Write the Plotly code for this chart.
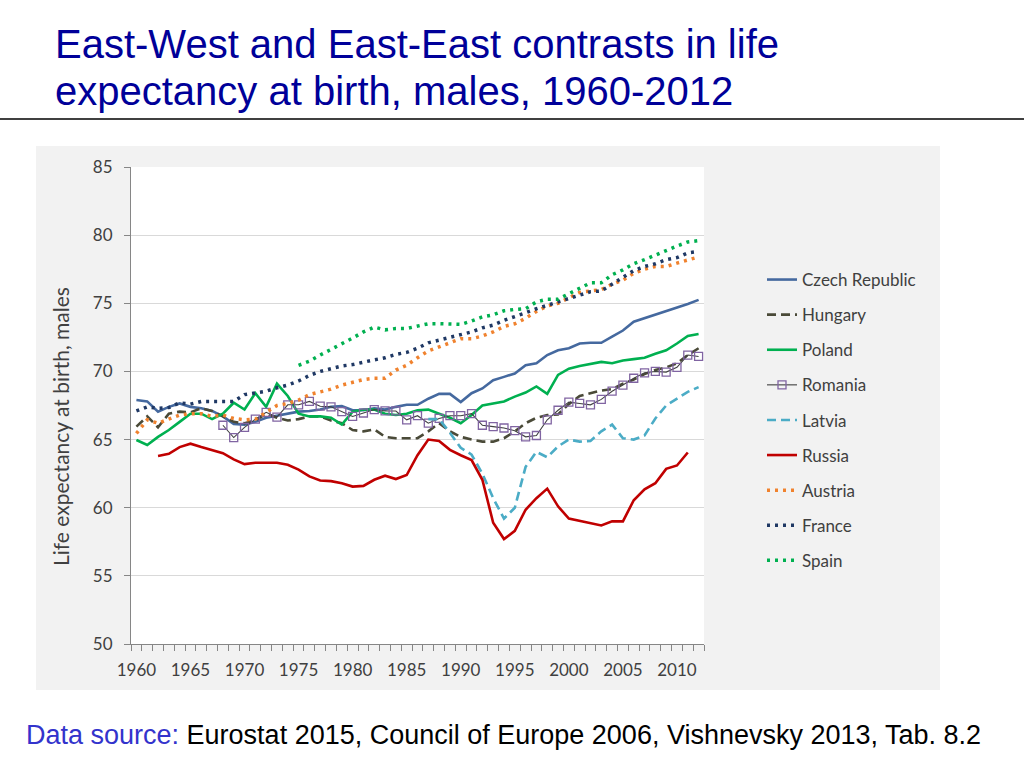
import plotly.graph_objects as go

years = list(range(1960, 2013))

czech = [67.9, 67.8, 67.05, 67.4, 67.65, 67.4, 67.3, 67.1, 66.7, 66.15,
         66.1, 66.3, 66.6, 66.75, 66.9, 67.05, 67.1, 67.2, 67.4, 67.45,
         67.15, 67.15, 67.3, 67.2, 67.4, 67.55, 67.55, 68.0, 68.35, 68.35,
         67.75, 68.4, 68.75, 69.35, 69.6, 69.85, 70.45, 70.6, 71.2, 71.55,
         71.7, 72.05, 72.1, 72.1, 72.55, 73.0, 73.65, 73.9, 74.15, 74.4,
         74.65, 74.95, 75.25]

hungary = [65.95, 66.7, 65.9, 66.9, 67.05, 67.0, 67.3, 67.1, 66.7, 66.3,
           66.2, 66.4, 66.9, 66.6, 66.4, 66.5, 66.7, 66.7, 66.4, 66.2,
           65.7, 65.6, 65.75, 65.2, 65.1, 65.1, 65.1, 65.6, 66.2, 65.6,
           65.2, 65.0, 64.85, 64.85, 65.1, 65.6, 66.2, 66.6, 66.8, 66.85,
           67.6, 68.2, 68.4, 68.6, 68.7, 69.1, 69.4, 69.8, 70.1, 70.3,
           70.6, 71.2, 71.7]

poland = [64.97, 64.6, 65.2, 65.7, 66.3, 66.9, 66.9, 66.5, 66.9, 67.7,
          67.2, 68.4, 67.4, 69.1, 68.2, 66.9, 66.7, 66.7, 66.6, 66.1,
          67.05, 67.2, 67.2, 66.9, 66.8, 66.9, 67.15, 67.2, 66.9, 66.6,
          66.2, 66.8, 67.5, 67.65, 67.8, 68.15, 68.45, 68.9, 68.35, 69.75,
          70.2, 70.4, 70.55, 70.7, 70.6, 70.8, 70.9, 71.0, 71.3, 71.55,
          72.05, 72.6, 72.75]

romania = [None] * 8 + [
    66.05, 65.15, 65.9, 66.5, 67.0, 66.65, 67.55, 67.55, 67.8, 67.45,
    67.4, 67.05, 66.7, 66.95, 67.2, 67.1, 67.1, 66.45, 66.75, 66.2,
    66.55, 66.75, 66.75, 66.9, 66.05, 65.95, 65.85, 65.65, 65.2, 65.3,
    66.45, 67.15, 67.75, 67.65, 67.55, 67.95, 68.55, 69.0, 69.5, 69.9,
    70.0, 69.95, 70.3, 71.2, 71.1]

latvia = [None] * 27 + [
    66.5, 66.5, 65.5, 64.4, 63.9, 62.5, 60.7, 59.2, 60.0, 63.0,
    64.1, 63.7, 64.5, 65.0, 64.85, 64.9, 65.6, 66.1, 65.1, 65.0,
    65.3, 66.55, 67.5, 68.0, 68.5, 68.85]

russia = [None] * 2 + [
    63.8, 63.95, 64.45, 64.7, 64.45, 64.25, 64.0, 63.55, 63.2, 63.3,
    63.3, 63.3, 63.15, 62.8, 62.3, 62.0, 61.95, 61.8, 61.55, 61.6,
    62.05, 62.35, 62.1, 62.4, 63.85, 65.0, 64.9, 64.25, 63.85, 63.5,
    62.05, 58.9, 57.7, 58.3, 59.85, 60.7, 61.4, 60.1, 59.2, 59.05,
    58.9, 58.7, 59.0, 59.0, 60.55, 61.35, 61.8, 62.85, 63.1, 64.05] + [None]

austria = [65.45, 66.45, 66.2, 66.5, 66.8, 66.9, 66.9, 66.7, 66.8, 66.55,
           66.45, 66.5, 67.0, 67.5, 67.65, 67.9, 68.3, 68.5, 68.7, 69.0,
           69.2, 69.4, 69.5, 69.5, 70.1, 70.45, 71.0, 71.5, 71.8, 72.1,
           72.4, 72.4, 72.6, 72.9, 73.3, 73.5, 73.9, 74.4, 74.8, 75.0,
           75.4, 75.8, 75.9, 76.0, 76.4, 76.7, 77.2, 77.5, 77.7, 77.7,
           77.95, 78.2, 78.4]

france = [67.1, 67.4, 67.3, 67.35, 67.7, 67.6, 67.8, 67.8, 67.75, 67.8,
          68.3, 68.45, 68.55, 68.8, 69.0, 69.3, 69.7, 70.0, 70.2, 70.4,
          70.5, 70.7, 70.85, 71.0, 71.25, 71.4, 71.7, 72.1, 72.3, 72.5,
          72.75, 72.9, 73.2, 73.4, 73.75, 74.0, 74.3, 74.6, 74.85, 75.05,
          75.35, 75.6, 75.85, 75.9, 76.4, 76.9, 77.4, 77.7, 77.9, 78.2,
          78.35, 78.7, 78.8]

spain = [None] * 15 + [
    70.45, 70.75, 71.2, 71.6, 72.0, 72.45, 72.9, 73.25, 73.05, 73.15,
    73.15, 73.3, 73.5, 73.5, 73.45, 73.45, 73.7, 74.0, 74.15, 74.45,
    74.55, 74.6, 75.1, 75.3, 75.3, 75.7, 76.1, 76.5, 76.5, 77.1,
    77.45, 77.9, 78.2, 78.55, 78.9, 79.2, 79.5, 79.6]

x_tick_vals = list(range(1960, 2011, 5))
x_tick_text = [str(v) for v in x_tick_vals]
y_tick_vals = [50, 55, 60, 65, 70, 75, 80, 85]

title_lines = ["East-West and East-East contrasts in life",
               "expectancy at birth, males, 1960-2012"]
y_title = "Life expectancy at birth, males"
source_label = "Data source:"
source_text = "Eurostat 2015, Council of Europe 2006, Vishnevsky 2013, Tab. 8.2"

# ---- layout geometry (pixels) ----
W, H = 1024, 768
PL, PR, PT, PB = 131, 704, 167, 644


def px(xp):
    return (xp - PL) / (PR - PL)


def py(yp):
    return 1 - (yp - PT) / (PB - PT)


CAL = "Lato, 'Open Sans', sans-serif"
ARIAL = "'Liberation Sans', Arial, sans-serif"

series = [
    dict(name="Czech Republic", y=czech, color="#45699f", width=2.6, dash="solid"),
    dict(name="Hungary", y=hungary, color="#4a4a38", width=2.6, dash="9px,5px"),
    dict(name="Poland", y=poland, color="#00b050", width=2.6, dash="solid"),
    dict(name="Romania", y=romania, color="#404040", width=1.1, dash="solid", marker=True),
    dict(name="Latvia", y=latvia, color="#4bacc6", width=2.6, dash="9px,5px"),
    dict(name="Russia", y=russia, color="#c00000", width=2.6, dash="solid"),
    dict(name="Austria", y=austria, color="#f0822e", width=3.5, dash="3px,5px"),
    dict(name="France", y=france, color="#1f3864", width=3.5, dash="3px,5px"),
    dict(name="Spain", y=spain, color="#00b050", width=3.5, dash="3px,5px"),
]

fig = go.Figure()
for i, s in enumerate(series):
    kw = {}
    if s.get("marker"):
        kw["mode"] = "lines+markers"
        kw["marker"] = dict(symbol="square-open", size=8, color="#8064a2",
                            line=dict(width=1.3, color="#8064a2"))
    else:
        kw["mode"] = "lines"
    fig.add_trace(go.Scatter(
        x=years, y=s["y"], name=s["name"], legendgroup=f"g{i}",
        line=dict(color=s["color"], width=s["width"], dash=s["dash"]),
        connectgaps=False, hoverinfo="skip", **kw))

shapes = [
    dict(type="rect", xref="paper", yref="paper", layer="below",
         x0=px(36), x1=px(940), y0=py(690), y1=py(146),
         fillcolor="#f2f2f2", line=dict(width=0)),
    dict(type="rect", xref="paper", yref="paper", layer="below",
         x0=0, x1=1, y0=0, y1=1, fillcolor="white", line=dict(width=0)),
    dict(type="line", xref="paper", yref="paper",
         x0=px(0), x1=px(W), y0=py(119), y1=py(119),
         line=dict(color="black", width=1.5)),
]

annotations = [
    dict(text=title_lines[0], xref="paper", yref="paper", x=px(53), y=py(44),
         xanchor="left", yanchor="middle", showarrow=False,
         font=dict(family=ARIAL, size=40, color="#000099")),
    dict(text=title_lines[1], xref="paper", yref="paper", x=px(53), y=py(91),
         xanchor="left", yanchor="middle", showarrow=False,
         font=dict(family=ARIAL, size=40, color="#000099")),
    dict(text=f"<span style='color:#3333cc'>{source_label}</span> {source_text}",
         xref="paper", yref="paper", x=px(24), y=py(735),
         xanchor="left", yanchor="middle", showarrow=False,
         font=dict(family=ARIAL, size=27, color="black")),
    dict(text=y_title, xref="paper", yref="paper", x=px(60), y=py(427),
         xanchor="center", yanchor="middle", showarrow=False, textangle=-90,
         font=dict(family=CAL, size=21, color="#404040")),
]

fig.update_layout(
    width=W, height=H,
    margin=dict(l=PL, r=W - PR, t=PT, b=H - PB, pad=0),
    paper_bgcolor="white", plot_bgcolor="white",
    shapes=shapes, annotations=annotations,
    showlegend=True,
    legend=dict(x=px(762), y=py(262), xanchor="left", yanchor="top",
                bgcolor="rgba(0,0,0,0)", font=dict(family=CAL, size=17, color="#404040"),
                tracegroupgap=10, traceorder="grouped", itemwidth=30),
    xaxis=dict(range=[1959.5, 2012.5], tickmode="array", tickvals=x_tick_vals,
               ticktext=x_tick_text, ticks="", showgrid=False, zeroline=False,
               showline=True, linecolor="#868686", linewidth=1.2,
               ticklabelstandoff=10,
               tickfont=dict(family=CAL, size=17, color="#404040"),
               minor=dict(ticks="outside", ticklen=6, tick0=1959.5, dtick=1,
                          tickcolor="#868686", tickwidth=1, showgrid=False)),
    yaxis=dict(range=[50, 85], tickmode="array", tickvals=y_tick_vals,
               ticks="outside", ticklen=6, tickcolor="#868686",
               showgrid=True, gridcolor="#d9d9d9", gridwidth=1, zeroline=False,
               showline=True, linecolor="#868686", linewidth=1.2,
               ticklabelstandoff=8,
               tickfont=dict(family=CAL, size=17, color="#404040")),
)

fig.write_html("out.html",
               config={"displayModeBar": False},
               post_script="document.body.style.margin='0px';document.body.style.overflow='hidden';")
